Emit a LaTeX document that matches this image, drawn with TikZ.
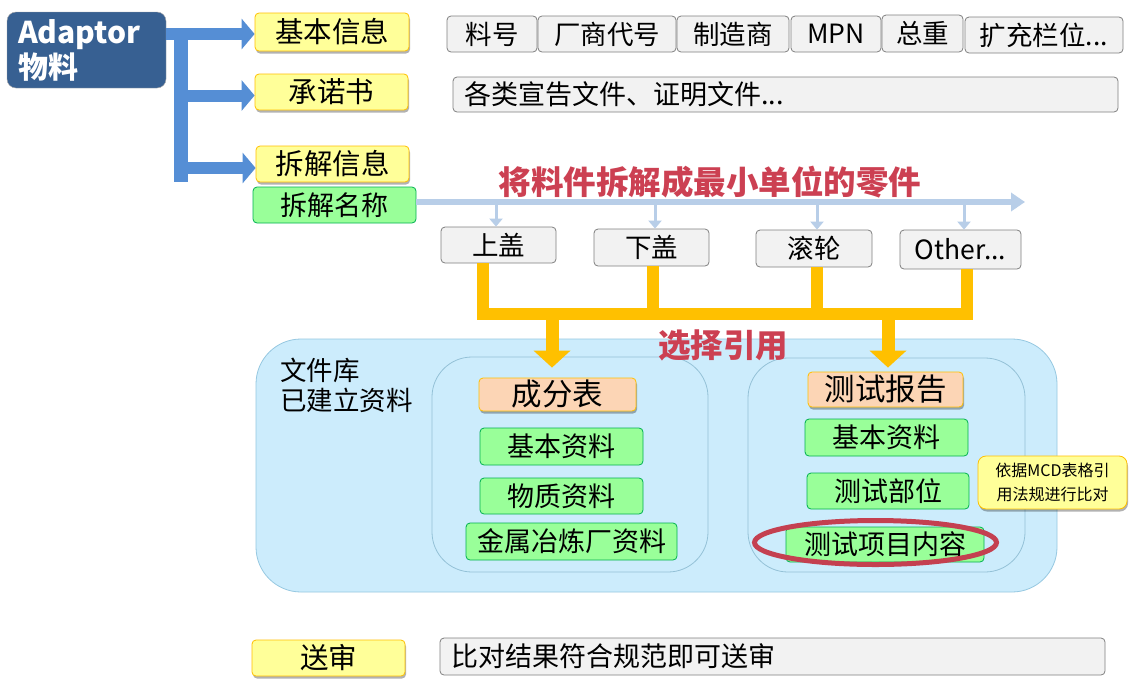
\documentclass[tikz,border=0pt]{standalone}
\usepackage{fontspec}
\setmainfont{Noto Sans CJK SC}
\usetikzlibrary{arrows.meta,shadows}
\definecolor{adblue}{RGB}{55,96,146}
\definecolor{arrblue}{RGB}{85,142,213}
\definecolor{lblue}{RGB}{184,206,232}
\definecolor{yfill}{RGB}{255,255,153}
\definecolor{ydraw}{RGB}{255,192,0}
\definecolor{gfill}{RGB}{242,242,242}
\definecolor{gdraw}{RGB}{128,128,128}
\definecolor{grfill}{RGB}{153,255,153}
\definecolor{grdraw}{RGB}{0,176,80}
\definecolor{pfill}{RGB}{252,213,181}
\definecolor{libfill}{RGB}{204,236,252}
\definecolor{libdraw}{RGB}{150,200,225}
\definecolor{redtxt}{RGB}{204,64,82}
\definecolor{ellred}{RGB}{196,64,80}
\definecolor{gold}{RGB}{255,192,0}
\tikzset{
  wh/.style 2 args={minimum width=#1pt, minimum height=#2pt},
  bx/.style={inner sep=0pt, rounded corners=4pt, line width=0.8pt, font=\fontsize{27}{31}\selectfont},
  shd/.style={drop shadow={shadow xshift=1pt,shadow yshift=-2.5pt,opacity=.3,fill=black}},
  ybox/.style={bx, fill=yfill, draw=ydraw, shd, font=\fontsize{28.5}{32}\selectfont},
  gbox/.style={bx, fill=gfill, draw=gdraw, font=\fontsize{26.5}{30}\selectfont},
  grbox/.style={bx, fill=grfill, draw=grdraw},
  pbox/.style={bx, fill=pfill, draw=ydraw, shd, font=\fontsize{30.5}{34}\selectfont},
  libbox/.style={fill=libfill, draw=libdraw, line width=0.8pt},
  bluearr/.style={draw=arrblue, line width=12pt, -{Triangle[length=13pt,width=30pt]}},
  bluebar/.style={draw=arrblue, line width=14pt},
  lbarr/.style={draw=lblue, line width=6pt, -{Triangle[length=14pt,width=18pt]}},
  lbsmall/.style={draw=lblue, line width=3pt, -{Triangle[length=8pt,width=13pt]}},
  yline/.style={draw=gold, line width=12pt, line join=miter},
  yarr/.style={draw=gold, line width=13pt, -{Triangle[length=17pt,width=36pt]}},
  redlbl/.style={text=redtxt, font=\bfseries\fontsize{32.5}{36}\selectfont, inner sep=0pt},
}
\begin{document}
\begin{tikzpicture}[x=1pt,y=-1pt]
\useasboundingbox[fill=white] (0,0) rectangle (1137,683);

% Adaptor
\node[fill=adblue, draw=gray!70, rounded corners=9pt, wh={159}{76}, text width=137pt, inner sep=0pt, align=left, text=white, font=\bfseries\fontsize{30}{35}\selectfont] (ad) at (86.5,50) {Adaptor\\物料};

% yellow category boxes
\node[ybox, wh={154}{38}] (jb) at (332,32) {基本信息};
\node[ybox, wh={153}{36}] (cn) at (331.5,92) {承诺书};
\node[ybox, wh={153}{36}] (cx) at (332.5,164) {拆解信息};
\node[grbox, wh={163}{36}] (cm) at (334.5,205) {拆解名称};

% blue connectors
\draw[bluebar] (181,28) coordinate (bt) -- (181,182) coordinate (bb);
\draw[bluearr] (ad.east |- 0,34) -- (jb.west |- 0,34);
\draw[bluearr] (bt |- 0,95.5) -- (cn.west |- 0,95.5);
\draw[bluearr] (bt |- 0,168) -- (cx.west |- 0,168);

% gray top row
\node[gbox, wh={90}{36}] (g1) at (492,34) {料号};
\node[gbox, wh={138}{36}] (g2) at (607,34) {厂商代号};
\node[gbox, wh={112}{36}] (g3) at (733,34) {制造商};
\node[gbox, wh={90}{36}] (g4) at (836,34) {MPN};
\node[gbox, wh={81}{37}] (g5) at (922.5,33.5) {总重};
\node[gbox, wh={158}{36}] (g6) at (1044,35) {扩充栏位...};
\node[gbox, wh={665}{35}, text width=643pt, align=left, font=\fontsize{27}{31}\selectfont] (gd) at (785.5,94.5) {各类宣告文件、证明文件...};

% disassembly line
\coordinate (le) at (1025,202);
\draw[lbarr] (cm.east |- le) -- (le);
\node[redlbl] (t1) at (710,182) {将料件拆解成最小单位的零件};

\node[gbox, wh={115}{36}] (sg) at (498.5,245) {上盖};
\node[gbox, wh={115}{37}] (xg) at (651.5,247.5) {下盖};
\node[gbox, wh={116}{37}] (gl) at (814,248.5) {滚轮};
\node[gbox, wh={121}{39}] (oth) at (960.5,249.5) {Other...};

\draw[lbsmall] (496,204) -- (sg.north -| 496,0);
\draw[lbsmall] (655,204) -- (xg.north -| 655,0);
\draw[lbsmall] (817,204) -- (gl.north -| 817,0);
\draw[lbsmall] (964,204) -- (oth.north -| 964,0);

% library container
\draw[libbox, rounded corners=45pt] (256,339) rectangle (1057,592);
\node[inner sep=0pt, anchor=north west, align=left, font=\fontsize{26.5}{30}\selectfont] (lib) at (280,358) {文件库\\已建立资料};
\draw[libbox, draw=libdraw!90!gray, rounded corners=40pt] (432,357) rectangle (708,572);
\draw[libbox, draw=libdraw!90!gray, rounded corners=40pt] (748,358) rectangle (1025,572);

\node[pbox, wh={157}{33}] (cf) at (557.5,394.5) {成分表};
\node[grbox, wh={163}{37}] (lb1) at (561.5,446.5) {基本资料};
\node[grbox, wh={163}{36}] (lb2) at (561.5,496) {物质资料};
\node[grbox, wh={211}{37}] (lb3) at (571.5,541.5) {金属冶炼厂资料};

\node[pbox, wh={155}{35}] (tr) at (885.5,389.5) {测试报告};
\node[grbox, wh={163}{37}] (rb1) at (886.5,437.5) {基本资料};
\node[grbox, wh={162}{36}] (rb2) at (888,491) {测试部位};
\node[grbox, wh={198}{35}] (rb3) at (885,544.5) {测试项目内容};
\draw[draw=ellred, line width=5pt] (875.5,542.5) ellipse [x radius=121pt, y radius=22pt];

\node[fill=yfill, draw=ydraw, line width=0.8pt, rounded corners=8pt, shd, wh={149}{53}, inner sep=0pt, align=center, font=\fontsize{16}{24}\selectfont] (note) at (1052.5,482.5) {依据MCD表格引\\用法规进行比对};

% yellow selection connectors
\coordinate (h1) at (483,314);
\coordinate (h2) at (967,314);
\draw[yline] (sg.south -| h1) -- (h1) -- (h2) -- (oth.south -| h2);
\draw[yline] (xg.south -| 653,0) -- (653,314);
\draw[yline] (gl.south -| 817,0) -- (817,314);
\coordinate (d1) at (552,308);
\coordinate (d2) at (888,308);
\draw[yarr] (d1) -- ([yshift=10pt]cf.north -| d1);
\draw[yarr] (d2) -- ([yshift=4pt]tr.north -| d2);
\node[redlbl] (t2) at (723,345) {选择引用};

% submit
\node[ybox, wh={153}{36}] (ss) at (328.5,658) {送审};
\node[gbox, wh={665}{37}, text width=643pt, align=left, font=\fontsize{27}{31}\selectfont] (bd) at (772.5,656.5) {比对结果符合规范即可送审};
\end{tikzpicture}
\end{document}
